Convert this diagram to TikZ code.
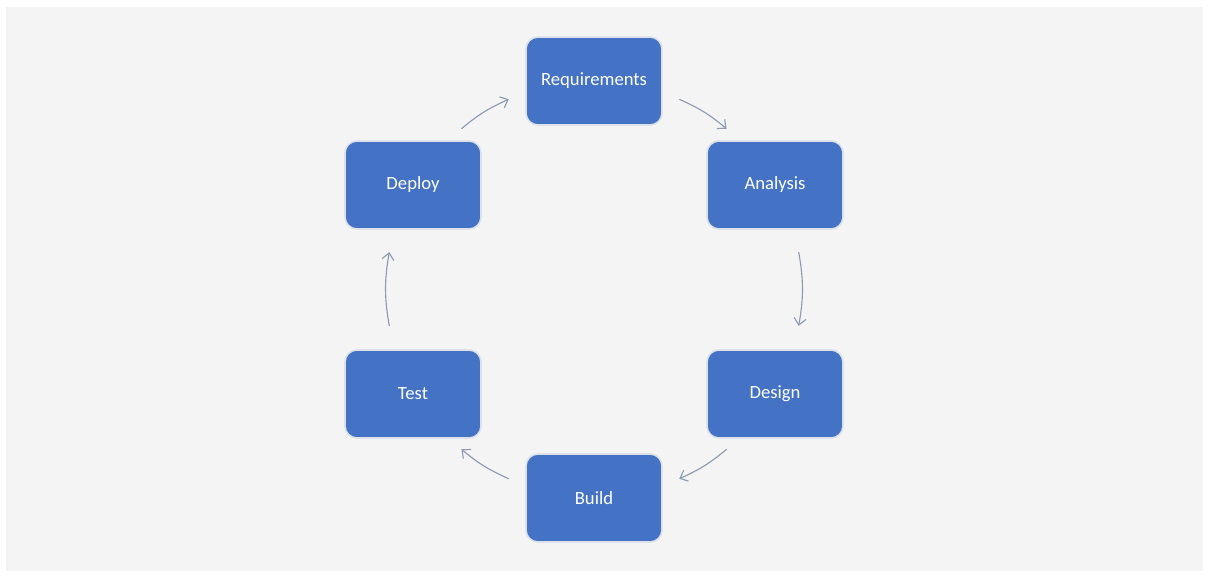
\documentclass[tikz,border=0pt]{standalone}
\usepackage{fontspec}
\setmainfont{Carlito}
\usetikzlibrary{arrows.meta,calc}
\definecolor{bgc}{HTML}{F4F4F4}
\definecolor{boxc}{HTML}{4472C4}
\definecolor{edgec}{HTML}{DCE1EA}
\definecolor{arrc}{HTML}{8C9BB3}
\tikzset{
  stage/.style={rectangle, rounded corners=9pt, fill=boxc, draw=edgec, line width=1.2pt,
    minimum width=102pt, minimum height=66pt, text=white, font=\fontsize{14}{16}\selectfont},
  flow/.style={draw=arrc, line width=0.85pt, -{Straight Barb[length=5pt,width=9pt]}}
}
\begin{document}
\begin{tikzpicture}[x=0.75pt,y=-0.75pt]
\useasboundingbox (0,0) rectangle (1210,578);
\fill[white] (0,0) rectangle (1210,578);
\fill[bgc] (6,7) rectangle (1203,571);
\coordinate (c) at (594,289);
\node[stage] (req) at (594,81) {Requirements};
\node[stage] (ana) at (775,185) {Analysis};
\node[stage] (des) at (775,394) {Design};
\node[stage] (bui) at (594,498) {Build};
\node[stage] (tes) at (413,394) {Test};
\node[stage] (dep) at (413,185) {Deploy};
\def\R{208}
\coordinate (a1) at ($(c)+({\R*cos(65.8)},{-\R*sin(65.8)})$);
\coordinate (b1) at ($(c)+({\R*cos(50.4)},{-\R*sin(50.4)})$);
\coordinate (a2) at ($(c)+({\R*cos(10.2)},{-\R*sin(10.2)})$);
\coordinate (b2) at ($(c)+({\R*cos(-10.2)},{-\R*sin(-10.2)})$);
\coordinate (a3) at ($(c)+({\R*cos(-50.4)},{-\R*sin(-50.4)})$);
\coordinate (b3) at ($(c)+({\R*cos(-65.8)},{-\R*sin(-65.8)})$);
\coordinate (a4) at ($(c)+({\R*cos(-114.2)},{-\R*sin(-114.2)})$);
\coordinate (b4) at ($(c)+({\R*cos(-129.6)},{-\R*sin(-129.6)})$);
\coordinate (a5) at ($(c)+({\R*cos(-169.8)},{-\R*sin(-169.8)})$);
\coordinate (b5) at ($(c)+({\R*cos(169.8)},{-\R*sin(169.8)})$);
\coordinate (a6) at ($(c)+({\R*cos(129.6)},{-\R*sin(129.6)})$);
\coordinate (b6) at ($(c)+({\R*cos(114.2)},{-\R*sin(114.2)})$);
\draw[flow] (a1) to[bend left=8] (b1);
\draw[flow] (a2) to[bend left=10] (b2);
\draw[flow] (a3) to[bend left=8] (b3);
\draw[flow] (a4) to[bend left=8] (b4);
\draw[flow] (a5) to[bend left=10] (b5);
\draw[flow] (a6) to[bend left=8] (b6);
\end{tikzpicture}
\end{document}
